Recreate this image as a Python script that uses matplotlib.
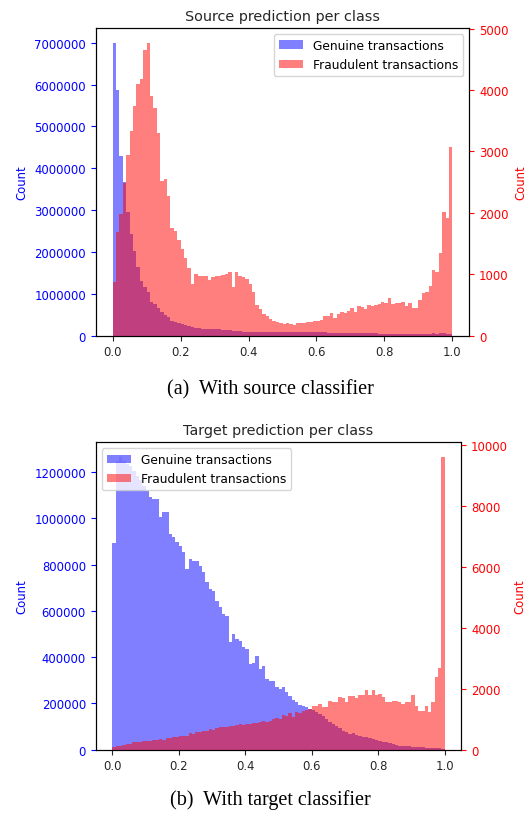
import numpy as np
import matplotlib
matplotlib.use("Agg")
import matplotlib.pyplot as plt

# ---------------- data (100 bins on [0, 1]) ----------------
n_bins = 100
legend_labels = ["Genuine transactions", "Fraudulent transactions"]
titles = ["Source prediction per class", "Target prediction per class"]
captions = ["(a)  With source classifier", "(b)  With target classifier"]
ylabel = "Count"

source_genuine = [
    7000000, 5870000, 4300000, 3660000, 2950000, 2430000, 2030000, 1630000, 1310000, 1160000,
    1040000, 810000, 760000, 670000, 560000, 490000, 440000, 360000, 330000, 300000,
    270000, 250000, 220000, 200000, 190000, 190000, 170000, 170000, 160000, 160000,
    150000, 150000, 140000, 130000, 130000, 120000, 120000, 110000, 100000, 100000,
    100000, 95000, 95000, 95000, 95000, 90000, 85000, 85000, 80000, 80000,
    80000, 80000, 80000, 80000, 80000, 80000, 80000, 80000, 80000, 80000,
    80000, 80000, 78000, 72000, 70000, 70000, 70000, 70000, 70000, 70000,
    70000, 70000, 70000, 70000, 70000, 68000, 65000, 60000, 50000, 50000,
    50000, 50000, 50000, 50000, 50000, 50000, 50000, 50000, 50000, 50000,
    50000, 50000, 50000, 50000, 60000, 50000, 55000, 55000, 45000, 40000,
]
source_fraud = [
    877, 1690, 1977, 2490, 2936, 3330, 3740, 4090, 4180, 4650,
    4770, 3900, 3710, 3300, 2520, 2550, 2275, 1745, 1705, 1560,
    1410, 1270, 1110, 840, 1000, 975, 965, 975, 910, 950,
    975, 965, 985, 1000, 1040, 785, 1040, 975, 950, 920,
    835, 705, 500, 433, 352, 325, 270, 244, 228, 206,
    190, 206, 184, 173, 200, 206, 206, 217, 228, 238,
    238, 249, 314, 314, 368, 292, 357, 379, 368, 401,
    455, 379, 488, 466, 433, 498, 488, 498, 509, 553,
    531, 618, 520, 531, 531, 542, 477, 531, 445, 445,
    585, 688, 705, 813, 1073, 1030, 1344, 2015, 1918, 3078,
]
target_genuine = [
    894000, 1250000, 1266000, 1250000, 1235000, 1225000, 1205000, 1185000, 1165000, 1140000,
    1120000, 1091000, 1084000, 1084000, 1005000, 1027000, 1027000, 933000, 918000, 897000,
    882000, 854000, 781000, 825000, 817000, 817000, 796000, 767000, 724000, 695000,
    688000, 644000, 616000, 587000, 580000, 465000, 500000, 479000, 471000, 443000,
    435000, 371000, 375000, 405000, 350000, 363000, 306000, 298000, 295000, 270000,
    263000, 270000, 248000, 231000, 216000, 205000, 193000, 187000, 183000, 176000,
    173000, 164000, 154000, 144000, 133000, 118000, 111000, 101000, 92000, 82000,
    75000, 68000, 72000, 63000, 58000, 56000, 53000, 49000, 46000, 43000,
    39000, 35000, 32000, 29000, 25000, 20000, 17000, 17000, 14000, 14000,
    12000, 12000, 12000, 12000, 9000, 9000, 9000, 9000, 9000, 3000,
]
target_fraud = [
    77, 132, 132, 140, 186, 186, 241, 241, 250, 270,
    296, 296, 310, 329, 340, 329, 373, 373, 406, 406,
    461, 440, 461, 548, 520, 570, 570, 625, 625, 680,
    650, 700, 735, 735, 760, 789, 780, 820, 844, 820,
    844, 860, 880, 870, 900, 954, 900, 930, 1009, 1031,
    1020, 1140, 1096, 1206, 1060, 1250, 1206, 1283, 1305, 1338,
    1447, 1447, 1502, 1393, 1393, 1612, 1557, 1557, 1721, 1689,
    1557, 1754, 1754, 1689, 1798, 1798, 1974, 1798, 1974, 1798,
    1831, 1721, 1579, 1579, 1612, 1612, 1557, 1502, 1557, 1557,
    1798, 1425, 1283, 1283, 1447, 1228, 1579, 2379, 2675, 9616,
]

edges = np.linspace(0.0, 1.0, n_bins + 1)
centers = 0.5 * (edges[:-1] + edges[1:])

fig = plt.figure(figsize=(5.32, 8.2), dpi=100)

TICK = 8.4
panels = [
    (source_genuine, source_fraud, titles[0], captions[0],
     [0.1799, 0.5894, 0.7023, 0.3752], "upper right", 0.5244),
    (target_genuine, target_fraud, titles[1], captions[1],
     [0.1799, 0.0845, 0.6872, 0.3749], "upper left", 0.0244),
]

for gen, fra, title, cap, rect, loc, cap_y in panels:
    ax = fig.add_axes(rect)
    ax2 = ax.twinx()
    h1 = ax.hist(centers, bins=edges, weights=gen, color="b", alpha=0.5,
                 label=legend_labels[0])[2]
    h2 = ax2.hist(centers, bins=edges, weights=fra, color="r", alpha=0.5,
                  label=legend_labels[1])[2]
    ax.set_xlim(-0.05, 1.05)
    ax.set_ylim(0, max(gen) * 1.05)
    ax2.set_ylim(0, max(fra) * 1.05)
    ax.ticklabel_format(axis="y", style="plain", useOffset=False)
    ax2.ticklabel_format(axis="y", style="plain", useOffset=False)
    ax.tick_params(axis="y", colors="b", labelsize=TICK)
    ax2.tick_params(axis="y", colors="r", labelsize=TICK)
    ax.tick_params(axis="x", labelsize=TICK, colors="#262626")
    ax.set_ylabel(ylabel, color="b", fontsize=TICK)
    ax2.set_ylabel(ylabel, color="r", fontsize=TICK)
    ax.set_title(title, fontsize=10.4, color="#262626")
    ax2.legend([h1[0], h2[0]], legend_labels, loc=loc, fontsize=8.8)
    fig.text(0.508, cap_y, cap, ha="center", va="center",
             fontsize=14.5, family=["Liberation Serif", "DejaVu Serif"])

fig.savefig("out.png", dpi=100)
